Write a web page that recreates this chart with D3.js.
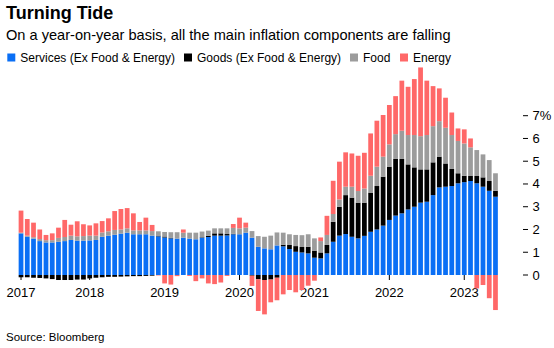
<!DOCTYPE html>
<html>
<head>
<meta charset="utf-8">
<script src="https://cdn.jsdelivr.net/npm/d3@7"></script>
<style>
  body { margin: 0; background: #fff; }
  svg text { font-family: "Liberation Sans", Arial, Helvetica, sans-serif; fill: #000; }
</style>
</head>
<body>
<div id="chart"></div>
<script>
// monthly contributions to US CPI, year-on-year (percentage points)
var months = [
  "2017-02","2017-03","2017-04","2017-05","2017-06","2017-07","2017-08","2017-09","2017-10","2017-11","2017-12",
  "2018-01","2018-02","2018-03","2018-04","2018-05","2018-06","2018-07","2018-08","2018-09","2018-10","2018-11","2018-12",
  "2019-01","2019-02","2019-03","2019-04","2019-05","2019-06","2019-07","2019-08","2019-09","2019-10","2019-11","2019-12",
  "2020-01","2020-02","2020-03","2020-04","2020-05","2020-06","2020-07","2020-08","2020-09","2020-10","2020-11","2020-12",
  "2021-01","2021-02","2021-03","2021-04","2021-05","2021-06","2021-07","2021-08","2021-09","2021-10","2021-11","2021-12",
  "2022-01","2022-02","2022-03","2022-04","2022-05","2022-06","2022-07","2022-08","2022-09","2022-10","2022-11","2022-12",
  "2023-01","2023-02","2023-03","2023-04","2023-05","2023-06"
];

var services = [
  1.83, 1.68, 1.60, 1.49, 1.43, 1.43, 1.46, 1.49, 1.54, 1.51, 1.51,
  1.52, 1.54, 1.68, 1.73, 1.77, 1.82, 1.86, 1.79, 1.79, 1.79, 1.73, 1.70,
  1.65, 1.61, 1.60, 1.64, 1.60, 1.57, 1.64, 1.67, 1.73, 1.73, 1.74, 1.79,
  1.79, 1.86, 1.64, 1.24, 1.17, 1.13, 1.30, 1.26, 1.14, 1.02, 0.99, 0.95,
  0.76, 0.73, 0.95, 1.46, 1.73, 1.80, 1.68, 1.61, 1.72, 1.90, 2.00, 2.17,
  2.42, 2.61, 2.71, 2.88, 3.00, 3.18, 3.22, 3.51, 3.85, 3.88, 3.91, 4.03,
  4.08, 4.13, 4.03, 3.88, 3.70, 3.44
];

var goods = [
  -0.10, -0.10, -0.12, -0.13, -0.15, -0.18, -0.22, -0.22, -0.22, -0.20, -0.20,
  -0.15, -0.12, -0.10, -0.08, -0.08, -0.07, -0.06, -0.05, -0.05, -0.04, -0.03, 0.03,
  0.04, 0.02, 0.00, 0.00, 0.00, 0.00, 0.02, 0.05, 0.10, 0.10, 0.06, 0.02,
  0.00, 0.00, -0.03, -0.19, -0.22, -0.20, -0.12, 0.07, 0.18, 0.25, 0.24, 0.29,
  0.31, 0.26, 0.37, 0.88, 1.27, 1.71, 1.72, 1.57, 1.46, 1.72, 1.91, 2.15,
  2.34, 2.49, 2.39, 1.98, 1.73, 1.46, 1.42, 1.44, 1.35, 1.02, 0.75, 0.44,
  0.28, 0.22, 0.32, 0.41, 0.43, 0.26
];

var food = [
  0.03, 0.05, 0.06, 0.09, 0.10, 0.10, 0.17, 0.18, 0.19, 0.19, 0.20,
  0.21, 0.19, 0.19, 0.19, 0.21, 0.18, 0.19, 0.17, 0.17, 0.17, 0.20, 0.19,
  0.20, 0.25, 0.28, 0.22, 0.26, 0.29, 0.25, 0.23, 0.22, 0.22, 0.25, 0.26,
  0.26, 0.22, 0.29, 0.47, 0.51, 0.60, 0.57, 0.53, 0.47, 0.49, 0.52, 0.55,
  0.54, 0.50, 0.44, 0.34, 0.32, 0.37, 0.48, 0.51, 0.62, 0.74, 0.85, 0.88,
  0.98, 1.09, 1.24, 1.29, 1.42, 1.46, 1.51, 1.59, 1.56, 1.57, 1.49, 1.42,
  1.42, 1.26, 1.14, 1.01, 0.92, 0.77
];

var energy = [
  0.97, 0.73, 0.64, 0.42, 0.23, 0.30, 0.45, 0.75, 0.48, 0.66, 0.52,
  0.45, 0.54, 0.50, 0.57, 0.83, 0.90, 0.89, 0.75, 0.37, 0.56, 0.27, -0.02,
  -0.37, -0.42, -0.05, 0.14, -0.04, -0.27, -0.15, -0.37, -0.40, -0.33, -0.04, 0.17,
  0.47, 0.22, -0.45, -1.39, -1.51, -1.00, -0.99, -0.85, -0.66, -0.76, -0.66, -0.47,
  -0.25, 0.16, 0.84, 1.46, 1.66, 1.51, 1.46, 1.55, 1.57, 1.86, 2.02, 1.83,
  1.73, 1.67, 2.20, 2.12, 2.46, 3.02, 2.39, 1.76, 1.44, 1.32, 0.99, 0.55,
  0.62, 0.39, -0.59, -0.44, -1.02, -1.54
];

var seriesKeys = ["services", "goods", "food", "energy"];
var seriesNames = ["Services (Ex Food & Energy)", "Goods (Ex Food & Energy)", "Food", "Energy"];
var seriesColors = ["#0a6ff5", "#000000", "#9c9c9c", "#ff6868"];

var yearTickMonths = ["2017-02", "2018-01", "2019-01", "2020-01", "2021-01", "2022-01", "2023-01"];
var yearTickLabels = ["2017", "2018", "2019", "2020", "2021", "2022", "2023"];
var yTicks = [0, 1, 2, 3, 4, 5, 6, 7];

var svgWidth = 554, svgHeight = 348;

var svg = d3.select("#chart").append("svg")
    .attr("width", svgWidth)
    .attr("height", svgHeight);

var rows = months.map(function(m, i) {
    return { month: m, services: services[i], goods: goods[i], food: food[i], energy: energy[i] };
});

var x = d3.scaleBand()
    .domain(months)
    .range([17.9, 498.6])
    .paddingInner(0.24)
    .paddingOuter(0.12);

var y = d3.scaleLinear()
    .domain([0, 7])
    .range([275, 115.7]);

// titles
svg.append("text")
    .attr("x", 6).attr("y", 19)
    .style("font-size", "18px").style("font-weight", "bold")
    .text("Turning Tide");

svg.append("text")
    .attr("x", 6).attr("y", 39.5)
    .style("font-size", "14.6px")
    .text("On a year-on-year basis, all the main inflation components are falling");

// legend
var legendX = [7.3, 184, 350, 400];
var legend = svg.append("g");
seriesNames.forEach(function(name, i) {
    legend.append("rect")
        .attr("x", legendX[i]).attr("y", 53.5)
        .attr("width", 8).attr("height", 8)
        .attr("fill", seriesColors[i]);
    legend.append("text")
        .attr("x", legendX[i] + 13).attr("y", 62)
        .style("font-size", "12px")
        .text(name);
});

// x axis ticks (sit behind the bars)
var xAxis = svg.append("g");
yearTickMonths.forEach(function(m, i) {
    var cx = x(m) + x.bandwidth() / 2;
    xAxis.append("line")
        .attr("x1", cx).attr("x2", cx)
        .attr("y1", 275).attr("y2", 280)
        .attr("stroke", "#000").attr("stroke-width", 1);
    xAxis.append("text")
        .attr("x", cx).attr("y", 297)
        .attr("text-anchor", "middle")
        .style("font-size", "13px")
        .text(yearTickLabels[i]);
});

// stacked bars
var stacked = d3.stack()
    .keys(seriesKeys)
    .offset(d3.stackOffsetDiverging)(rows);

svg.append("g").selectAll("g")
    .data(stacked)
    .enter().append("g")
    .attr("fill", function(d, i) { return seriesColors[i]; })
    .selectAll("rect")
    .data(function(d) { return d; })
    .enter().append("rect")
    .attr("x", function(d) { return x(d.data.month); })
    .attr("width", x.bandwidth())
    .attr("y", function(d) { return y(Math.max(d[0], d[1])); })
    .attr("height", function(d) { return Math.abs(y(d[0]) - y(d[1])); });

// right y axis
var yAxis = svg.append("g");
yTicks.forEach(function(t) {
    yAxis.append("line")
        .attr("x1", 523).attr("x2", 528)
        .attr("y1", y(t)).attr("y2", y(t))
        .attr("stroke", "#000").attr("stroke-width", 1);
    yAxis.append("text")
        .attr("x", 532.5).attr("y", y(t) + 4.5)
        .style("font-size", "13px")
        .text(t === 7 ? "7%" : t);
});

svg.append("text")
    .attr("x", 6).attr("y", 341)
    .style("font-size", "11.5px")
    .text("Source: Bloomberg");
</script>
</body>
</html>
